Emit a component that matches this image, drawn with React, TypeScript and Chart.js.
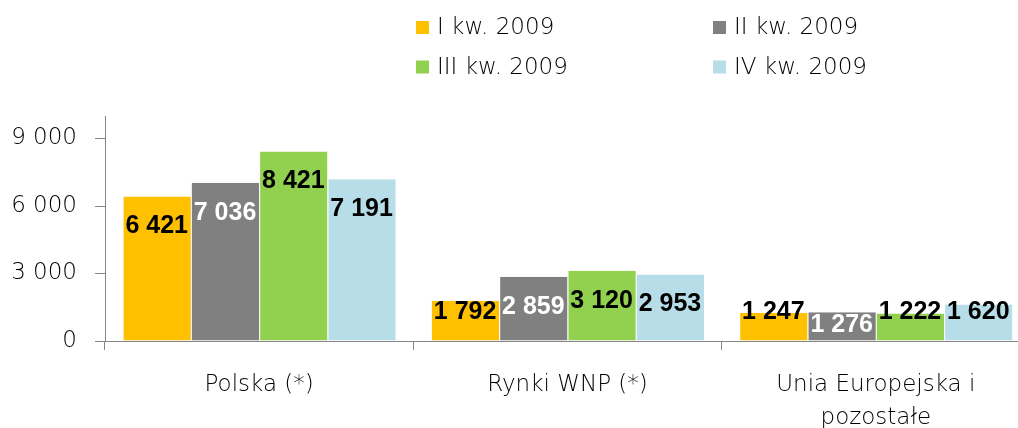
import React, { useEffect, useRef } from 'react';
import { Chart, registerables } from 'chart.js';

Chart.register(...registerables);

const categories = [['Polska (*)'], ['Rynki WNP (*)'], ['Unia Europejska i', 'pozostałe']];
const seriesNames = ['I kw. 2009', 'II kw. 2009', 'III kw. 2009', 'IV kw. 2009'];
const q1 = [6421, 1792, 1247];
const q2 = [7036, 2859, 1276];
const q3 = [8421, 3120, 1222];
const q4 = [7191, 2953, 1620];
const yMax = 10000;
const yStep = 3000;

const colors = ['#FFC000', '#808080', '#92D050', '#B7DEE8'];
const labelColors = ['#000000', '#FFFFFF', '#000000', '#000000'];
const axisColor = '#868686';
const FONT = "'DejaVu Sans', sans-serif";

const fmt = (v: number) => String(v).replace(/\B(?=(\d{3})+(?!\d))/g, ' ');

const dataLabelPlugin = {
  id: 'dataLabels',
  afterDatasetsDraw(chart: any) {
    const ctx = chart.ctx;
    ctx.save();
    ctx.font = "bold 25px 'Liberation Sans', Arial, sans-serif";
    ctx.textAlign = 'center';
    ctx.textBaseline = 'middle';
    chart.data.datasets.forEach((ds: any, i: number) => {
      const meta = chart.getDatasetMeta(i);
      meta.data.forEach((bar: any, j: number) => {
        const p = bar.getProps(['x', 'y', 'base'], true);
        let cy = p.y + 30;
        if (cy > p.base - 28) {
          cy = labelColors[i] === '#FFFFFF' ? p.base - 15 : p.base - 28;
        }
        ctx.fillStyle = labelColors[i];
        ctx.fillText(fmt(ds.data[j]), p.x, cy);
      });
    });
    ctx.restore();
  },
};

const legendPlugin = {
  id: 'gridLegend',
  afterDraw(chart: any) {
    const ctx = chart.ctx;
    ctx.save();
    ctx.font = `200 23px ${FONT}`;
    ctx.textBaseline = 'middle';
    ctx.textAlign = 'left';
    const colX = [416, 713];
    const rowY = [27.5, 67];
    chart.data.datasets.forEach((ds: any, i: number) => {
      const x = colX[i % 2];
      const y = rowY[Math.floor(i / 2)];
      ctx.fillStyle = ds.backgroundColor;
      ctx.fillRect(x, y - 6.5, 13, 13);
      ctx.fillStyle = '#000';
      ctx.fillText(ds.label, x + 21, y + 1);
    });
    ctx.restore();
  },
};

export default function App() {
  const ref = useRef<HTMLCanvasElement>(null);
  useEffect(() => {
    if (!ref.current) return;
    const series = [q1, q2, q3, q4];
    const chart = new Chart(ref.current, {
      type: 'bar',
      data: {
        labels: categories,
        datasets: series.map((d, i) => ({
          label: seriesNames[i],
          data: d,
          backgroundColor: colors[i],
          borderColor: '#FFFFFF',
          borderWidth: { left: 1, right: 0, top: 0, bottom: 0 },
          borderSkipped: false,
          categoryPercentage: 0.886,
          barPercentage: 1,
        })),
      },
      options: {
        responsive: false,
        animation: false,
        layout: { padding: { top: 116, right: 0, left: 0, bottom: 0 } },
        plugins: {
          legend: { display: false },
          tooltip: { enabled: false },
        },
        scales: {
          x: {
            afterFit: (s: any) => { s.height = 87; },
            border: { display: true, color: axisColor, width: 1 },
            grid: {
              display: true,
              drawOnChartArea: false,
              drawTicks: true,
              tickLength: 9,
              color: axisColor,
              offset: true,
            },
            ticks: {
              color: '#000',
              padding: 19,
              font: { family: FONT, size: 23, weight: '200', lineHeight: 1.43 },
              maxRotation: 0,
              autoSkip: false,
            },
          },
          y: {
            min: 0,
            max: yMax,
            afterFit: (s: any) => { s.width = 105; },
            border: { display: true, color: axisColor, width: 1 },
            grid: {
              display: true,
              drawOnChartArea: false,
              drawTicks: true,
              tickLength: 10,
              color: (c: any) => (c.tick && Math.round(c.tick.value) % yStep !== 0 ? 'rgba(0,0,0,0)' : axisColor),
            },
            ticks: {
              count: 11,
              autoSkip: false,
              color: '#000',
              padding: 18,
              font: { family: FONT, size: 23, weight: '200' },
              callback: (v: any) => (Math.round(Number(v)) % yStep === 0 ? fmt(Math.round(Number(v))) : ''),
            },
          },
        },
      },
      plugins: [dataLabelPlugin, legendPlugin],
    });
    return () => chart.destroy();
  }, []);
  return (
    <div style={{ position: 'fixed', left: 0, top: 0, width: 1018, height: 428, overflow: 'hidden', background: '#fff' }}>
      <canvas ref={ref} width={1030} height={428} style={{ display: 'block' }} />
    </div>
  );
}
